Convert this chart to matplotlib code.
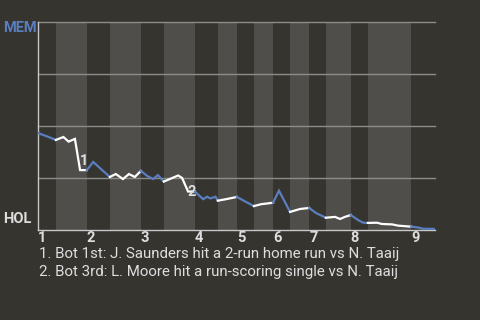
import matplotlib
matplotlib.use("Agg")
import matplotlib.pyplot as plt

plt.rcParams['font.family'] = ['Roboto', 'DejaVu Sans']

# game progress (0-100) at the start of each half inning, plus the end
half_starts = [0, 4.5, 12.3, 18.1, 25.9, 31.7, 39.5, 45.3, 50.1, 54.4,
               59.2, 63.5, 68.3, 72.5, 78.8, 83.1, 94.0, 100]

# MEM win probability (%) for each half inning: (progress, value)
half_x = [
    [0, 2.3, 4.5],
    [4.5, 6.4, 7.7, 9.3, 10.6, 12.3],
    [12.3, 13.9, 18.1],
    [18.1, 19.6, 21.4, 22.9, 24.4, 25.9],
    [25.9, 27.5, 29.0, 30.2, 31.7],
    [31.7, 35.3, 36.3, 37.8, 39.5],
    [39.5, 41.6, 42.6, 43.4, 44.7, 45.3],
    [45.3, 47.6, 50.1],
    [50.1, 52.4, 54.4],
    [54.4, 56.2, 59.2],
    [59.2, 60.7, 63.5],
    [63.5, 66.0, 68.3],
    [68.3, 70.0, 72.5],
    [72.5, 74.8, 76.1, 77.3, 78.8],
    [78.8, 80.6, 81.9, 83.1],
    [83.1, 85.4, 86.6, 89.2, 90.7, 94.0],
    [94.0, 95.5, 97.0, 100],
]
half_y = [
    [46.6, 45.0, 43.3],
    [43.3, 44.7, 42.5, 43.8, 28.8, 28.8],
    [28.8, 32.7, 25.5],
    [25.5, 26.9, 24.5, 26.9, 25.5, 28.4],
    [28.4, 26.0, 24.5, 26.4, 23.3],
    [23.3, 26.2, 25.0, 18.5, 18.5],
    [18.5, 14.8, 16.0, 15.2, 16.0, 14.1],
    [14.1, 14.9, 15.9],
    [15.9, 13.5, 11.5],
    [11.5, 12.4, 13.1],
    [13.1, 18.9, 8.7],
    [8.7, 10.1, 10.6],
    [10.6, 8.2, 5.9],
    [5.9, 6.3, 5.3, 6.3, 7.2],
    [7.2, 4.8, 3.5, 3.4],
    [3.4, 3.5, 2.9, 2.7, 2.1, 1.6],
    [1.6, 1.3, 0.6, 0.5],
]

inning_labels = ['1', '2', '3', '4', '5', '6', '7', '8', '9']
notes = ['1. Bot 1st: J. Saunders hit a 2-run home run vs N. Taaij',
         '2. Bot 3rd: L. Moore hit a run-scoring single vs N. Taaij']
note_x = [11.6, 38.7]
note_y = [33.3, 18.1]

bg = '#36342f'
band = '#4f4e4b'
blue = '#5b7ebf'
light = '#dedede'

fig = plt.figure(figsize=(4.8, 3.2), dpi=100, facecolor=bg)
ax = fig.add_axes([38 / 480, 90 / 320, 397 / 480, 208 / 320])
ax.set_facecolor(bg)
ax.set_xlim(0, 100)
ax.set_ylim(0, 100)

# lighter bands for the bottom halves
for i in range(1, len(half_starts) - 1, 2):
    ax.axvspan(half_starts[i], half_starts[i + 1], color=band, lw=0, zorder=0)

for g in [25, 50, 75, 100]:
    ax.axhline(g, color='#8c8c8a', lw=1, zorder=1, clip_on=False)

for i in range(len(half_x)):
    c = blue if i % 2 == 0 else 'white'
    ax.plot(half_x[i], half_y[i], color=c, lw=1.6, zorder=3,
            solid_joinstyle='miter')

for k in range(len(note_x)):
    ax.text(note_x[k], note_y[k], str(k + 1), color=light, fontsize=10.5,
            fontweight='bold', ha='center', va='center', zorder=4)

for s in ['top', 'right']:
    ax.spines[s].set_visible(False)
for s in ['left', 'bottom']:
    ax.spines[s].set_color('#c8c8c8')
    ax.spines[s].set_linewidth(1)

ax.set_yticks([])
top_starts = half_starts[0:-1:2]
ax.set_xticks(top_starts)
ax.set_xticklabels(inning_labels, color=light, fontsize=10.5,
                   fontweight='bold', ha='left')
ax.tick_params(axis='x', length=0, pad=1)

fig.text(3 / 480, 1 - 28 / 320, 'MEM', color=blue, fontsize=10.5,
         fontweight='bold', ha='left', va='center')
fig.text(3 / 480, 1 - 219 / 320, 'HOL', color=light, fontsize=10.5,
         fontweight='bold', ha='left', va='center')

for k, line in enumerate(notes):
    fig.text(39 / 480, 1 - (258 + 17.7 * k) / 320, line, color=light,
             fontsize=10.8, ha='left', va='baseline')

fig.savefig('out.png', dpi=100, facecolor=bg)
